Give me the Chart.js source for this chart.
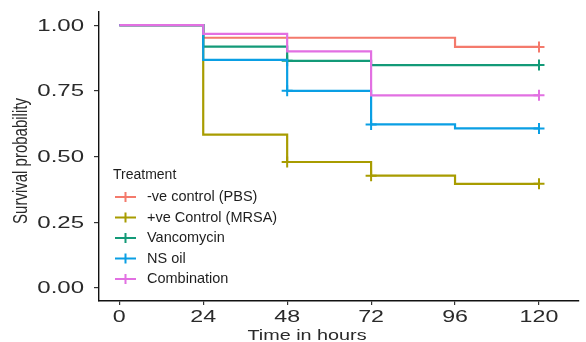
<!DOCTYPE html>
<html>
<head>
<meta charset="utf-8">
<script src="https://cdn.jsdelivr.net/npm/chart.js@4"></script>
<style>
  html, body { margin: 0; padding: 0; background: #fff; }
  #wrap { position: relative; width: 586px; height: 342px; }
</style>
</head>
<body>
<div id="wrap"><canvas id="survChart"></canvas></div>
<script>
// time points (hours) and tick labels
const hours = [0, 24, 48, 72, 96, 120];
const xTickLabels = ['0', '24', '48', '72', '96', '120'];
const yTickValues = [0, 0.25, 0.5, 0.75, 1];
const yTickLabels = ['0.00', '0.25', '0.50', '0.75', '1.00'];

// survival probability per group at each time point
const treatments = ['-ve control (PBS)', '+ve Control (MRSA)', 'Vancomycin', 'NS oil', 'Combination'];
const pbs    = [1, 0.952, 0.952, 0.952, 0.917, 0.917];
const mrsa   = [1, 0.583, 0.479, 0.427, 0.396, 0.396];
const vanco  = [1, 0.918, 0.864, 0.848, 0.848, 0.848];
const nsOil  = [1, 0.868, 0.75, 0.622, 0.607, 0.607];
const combo  = [1, 0.967, 0.9, 0.733, 0.733, 0.733];

// censor marks (+) : 1 = mark at that time point
const pbsCens   = [0, 0, 0, 0, 0, 1];
const mrsaCens  = [0, 0, 1, 1, 0, 1];
const vancoCens = [0, 0, 1, 0, 0, 1];
const nsOilCens = [0, 0, 1, 1, 0, 1];
const comboCens = [0, 0, 0, 0, 0, 1];

const colors = ['#F47A6C', '#A89C00', '#139A78', '#0A9FE4', '#E270E2'];

const series = [pbs, mrsa, vanco, nsOil, combo];
const censors = [pbsCens, mrsaCens, vancoCens, nsOilCens, comboCens];

const datasets = series.map((vals, i) => ({
    label: treatments[i],
    data: vals.map((v, j) => ({ x: hours[j], y: v })),
    stepped: 'before',
    borderColor: colors[i],
    borderWidth: 2.2,
    fill: false,
    pointStyle: 'cross',
    pointRadius: censors[i].map(c => (c ? 5.5 : 0)),
    pointBorderColor: colors[i],
    pointBorderWidth: 2,
    order: series.length - i, // combination drawn on top
}));

const FONT = '"Liberation Sans", Arial, sans-serif';

// draw text stretched horizontally (the reference text is wide)
function wideText(ctx, text, px, py, sx) {
    ctx.save();
    ctx.translate(px, py);
    ctx.scale(sx, 1);
    ctx.fillText(text, 0, 0);
    ctx.restore();
}

const labelsPlugin = {
    id: 'kmLabels',
    afterDraw(chart) {
        const { ctx, chartArea } = chart;
        const x = chart.scales.x;
        const y = chart.scales.y;
        ctx.save();

        // tick labels
        ctx.fillStyle = '#2a2a2a';
        ctx.font = '16px ' + FONT;
        ctx.textBaseline = 'middle';
        ctx.textAlign = 'center';
        hours.forEach((h, i) => wideText(ctx, xTickLabels[i], x.getPixelForValue(h), chartArea.bottom + 17, 1.45));
        ctx.textAlign = 'right';
        yTickValues.forEach((v, i) => wideText(ctx, yTickLabels[i], chartArea.left - 15, y.getPixelForValue(v) + 1, 1.5));

        // axis titles
        ctx.font = '15px ' + FONT;
        ctx.textAlign = 'center';
        ctx.textBaseline = 'alphabetic';
        wideText(ctx, 'Time in hours', 307, 340, 1.32);

        ctx.save();
        ctx.translate(27, 161);
        ctx.scale(1.35, 1);
        ctx.rotate(-Math.PI / 2);
        ctx.fillText('Survival probability', 0, 0);
        ctx.restore();

        // legend
        ctx.fillStyle = '#1e1e1e';
        ctx.textAlign = 'left';
        ctx.textBaseline = 'middle';
        ctx.font = '14px ' + FONT;
        ctx.fillText('Treatment', 113, 175);
        ctx.font = '14.5px ' + FONT;
        treatments.forEach((name, i) => {
            const ly = 197 + i * 20.5;
            ctx.strokeStyle = colors[i];
            ctx.lineWidth = 2;
            ctx.beginPath();
            ctx.moveTo(115, ly);
            ctx.lineTo(136, ly);
            ctx.moveTo(125.5, ly - 5);
            ctx.lineTo(125.5, ly + 5);
            ctx.stroke();
            ctx.fillStyle = '#1e1e1e';
            ctx.fillText(name, 147, ly);
        });
        ctx.restore();
    },
};

const axisGrid = { drawOnChartArea: false, drawTicks: true, color: '#333', lineWidth: 1.2 };
const axisBorder = { display: true, color: '#111', width: 1.4 };

new Chart(document.getElementById('survChart'), {
    type: 'line',
    data: { datasets },
    options: {
        responsive: true,
        maintainAspectRatio: false,
        animation: false,
        events: [],
        layout: { padding: { top: 12, right: 0, left: 0, bottom: 0 } },
        plugins: {
            legend: { display: false },
            tooltip: { enabled: false },
        },
        scales: {
            x: {
                type: 'linear',
                min: -5.8,
                max: 131.3,
                afterBuildTicks: s => { s.ticks = hours.map(v => ({ value: v })); },
                afterFit: s => { s.height = 41; },
                ticks: { display: false },
                grid: { ...axisGrid, tickLength: 4 },
                border: axisBorder,
            },
            y: {
                type: 'linear',
                min: -0.05,
                max: 1.05,
                afterBuildTicks: s => { s.ticks = yTickValues.map(v => ({ value: v })); },
                afterFit: s => { s.width = 99; },
                ticks: { display: false },
                grid: { ...axisGrid, tickLength: 5 },
                border: axisBorder,
            },
        },
    },
    plugins: [labelsPlugin],
});
</script>
</body>
</html>
